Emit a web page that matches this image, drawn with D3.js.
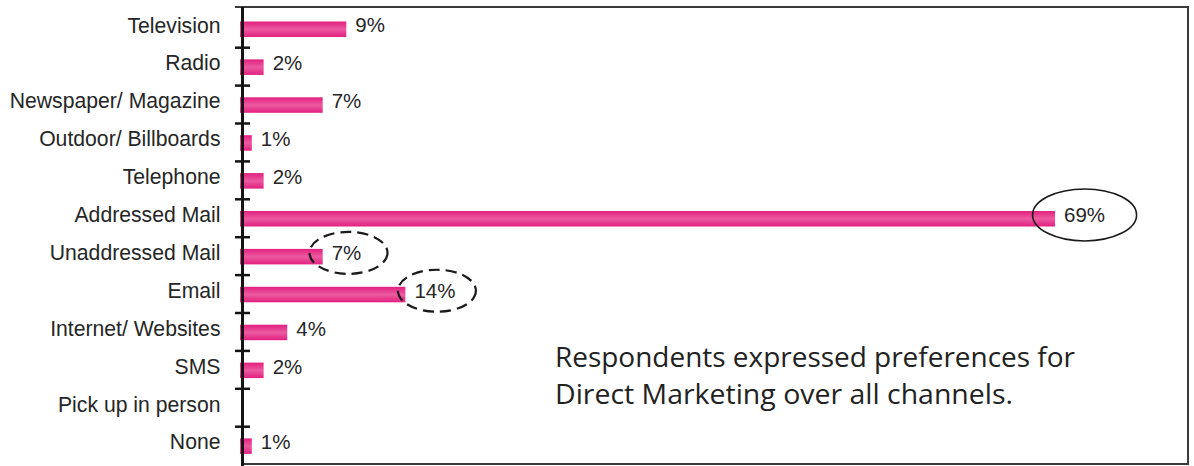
<!DOCTYPE html>
<html>
<head>
<meta charset="utf-8">
<script src="https://cdn.jsdelivr.net/npm/d3@7"></script>
<style>
  html, body { margin: 0; padding: 0; background: #ffffff; }
  svg { display: block; }
</style>
</head>
<body>
<svg id="chart" width="1194" height="466"></svg>
<script>
// ---- data ----
const categories = [
  "Television", "Radio", "Newspaper/ Magazine", "Outdoor/ Billboards",
  "Telephone", "Addressed Mail", "Unaddressed Mail", "Email",
  "Internet/ Websites", "SMS", "Pick up in person", "None"
];
const values = [9, 2, 7, 1, 2, 69, 7, 14, 4, 2, null, 1];
const valueLabels = ["9%", "2%", "7%", "1%", "2%", "69%", "7%", "14%", "4%", "2%", "", "1%"];
const solidHighlight = ["Addressed Mail"];
const dashedHighlight = ["Unaddressed Mail", "Email"];
const noteLines = [
  "Respondents expressed preferences for",
  "Direct Marketing over all channels."
];

// ---- layout ----
const svg = d3.select("#chart");
const W = 1194, H = 466;
const frame = { left: 235, top: 7, right: 1188, bottom: 464 };
const axisX = 242.5;

const x = d3.scaleLinear().domain([0, 80]).range([240, 1185]);
const y = d3.scaleBand().domain(categories).range([9.8, 464.6]).padding(0);
const barH = 15.5;

const defs = svg.append("defs");
const grad = defs.append("linearGradient")
  .attr("id", "barGrad").attr("x1", 0).attr("y1", 0).attr("x2", 0).attr("y2", 1);
grad.append("stop").attr("offset", "0%").attr("stop-color", "#e2207f");
grad.append("stop").attr("offset", "50%").attr("stop-color", "#ec5aa0");
grad.append("stop").attr("offset", "100%").attr("stop-color", "#e2207f");

// frame (top, right, bottom)
svg.append("path")
  .attr("d", `M${frame.left},${frame.top}H${frame.right}V${frame.bottom}H${axisX}`)
  .attr("fill", "none")
  .attr("stroke", "#3a3a3a")
  .attr("stroke-width", 2);

// bars
const data = categories.map((c, i) => ({ cat: c, v: values[i], label: valueLabels[i] }));
svg.append("g").selectAll("rect")
  .data(data.filter(d => d.v != null))
  .join("rect")
  .attr("x", x(0))
  .attr("y", d => y(d.cat) + y.bandwidth() / 2 - barH / 2 + 0.5)
  .attr("width", d => x(d.v) - x(0))
  .attr("height", barH)
  .attr("fill", "url(#barGrad)");

// y axis (category labels)
const yAxis = d3.axisLeft(y).tickSize(0).tickPadding(22);
const gy = svg.append("g")
  .attr("transform", `translate(${axisX},0)`)
  .call(yAxis);
gy.select(".domain").remove();
gy.selectAll("text")
  .attr("font-family", "'Liberation Sans', Arial, sans-serif")
  .attr("font-size", 21.2)
  .attr("fill", "#262626")
  .attr("dy", "0.18em");

// axis line
svg.append("line")
  .attr("x1", axisX).attr("x2", axisX)
  .attr("y1", frame.top).attr("y2", H)
  .attr("stroke", "#141414").attr("stroke-width", 3);

// boundary tick marks between categories
svg.append("g").selectAll("line")
  .data(categories.slice(1))
  .join("line")
  .attr("x1", 235).attr("x2", 250)
  .attr("y1", d => y(d)).attr("y2", d => y(d))
  .attr("stroke", "#141414").attr("stroke-width", 2.5);

// value labels
const labels = svg.append("g").selectAll("text")
  .data(data.filter(d => d.v != null))
  .join("text")
  .attr("x", d => x(d.v) + 9)
  .attr("y", d => y(d.cat) + y.bandwidth() / 2)
  .attr("dy", "0.18em")
  .attr("font-family", "'Liberation Sans', Arial, sans-serif")
  .attr("font-size", 20.5)
  .attr("fill", "#262626")
  .text(d => d.label);

// highlight ellipses around labels
labels.each(function(d) {
  const solid = solidHighlight.includes(d.cat);
  const dashed = dashedHighlight.includes(d.cat);
  if (!solid && !dashed) return;
  const b = this.getBBox();
  const cx = b.x + b.width / 2;
  const cy = b.y + b.height / 2 + 0.5;
  svg.append("ellipse")
    .attr("cx", solid ? cx : cx + 2)
    .attr("cy", cy)
    .attr("rx", solid ? 52 : 39)
    .attr("ry", solid ? 26 : 21)
    .attr("fill", "none")
    .attr("stroke", "#1a1a1a")
    .attr("stroke-width", solid ? 1.6 : 2.2)
    .attr("stroke-dasharray", dashed ? "11,6" : null);
});

// note text
const noteWidths = [520, 458];
svg.append("g").selectAll("text")
  .data(noteLines)
  .join("text")
  .attr("x", 555)
  .attr("y", (d, i) => 367 + i * 37)
  .attr("font-family", "'Open Sans', 'Noto Sans', sans-serif")
  .attr("font-size", 27)
  .attr("fill", "#222")
  .attr("textLength", (d, i) => noteWidths[i])
  .attr("lengthAdjust", "spacingAndGlyphs")
  .text(d => d);
</script>
</body>
</html>
